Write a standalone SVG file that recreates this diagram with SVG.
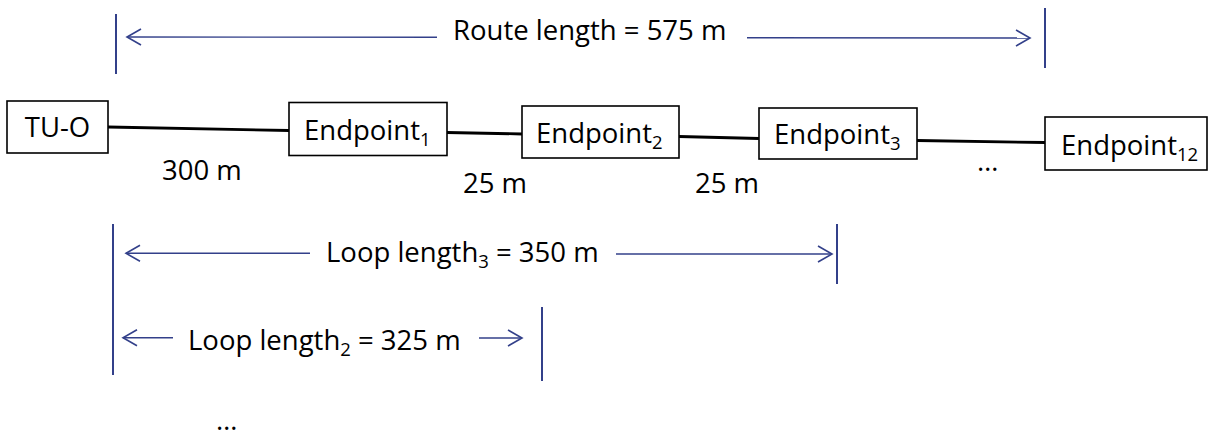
<svg xmlns="http://www.w3.org/2000/svg" width="1208" height="436" viewBox="0 0 1208 436">
  <defs>
    <style>
      text { font-family: "Open Sans", "Liberation Sans", sans-serif; font-size: 27.5px; fill: #000; }
      .sub { font-size: 18.5px; }
      .box { fill: #fff; stroke: #000; stroke-width: 1.6; }
      .link { stroke: #000; stroke-width: 2.8; fill: none; }
      .dim { stroke: #33408a; stroke-width: 1.4; fill: none; }
      .bar { stroke: #33408a; stroke-width: 2; fill: none; }
    </style>
    <marker id="open-arrow" markerUnits="userSpaceOnUse" markerWidth="20" markerHeight="20" viewBox="-16 -10 18 20" refX="0" refY="0" orient="auto-start-reverse">
      <path d="M -14 -8 L 0 0 L -14 8" fill="none" stroke="#33408a" stroke-width="1.6"/>
    </marker>
  </defs>

  <!-- cable segments between units -->
  <g id="connectors">
    <line class="link" x1="108" y1="127" x2="289" y2="130.5"/>
    <line class="link" x1="447" y1="132.5" x2="522" y2="134"/>
    <line class="link" x1="679" y1="136.5" x2="759" y2="138.5"/>
    <line class="link" x1="917" y1="140.5" x2="1045" y2="142.5"/>
  </g>

  <g id="tu-o">
    <rect class="box" x="7" y="101" width="101" height="52"/>
    <text x="57.5" y="137" text-anchor="middle">TU-O</text>
  </g>
  <g id="endpoint1">
    <rect class="box" x="289" y="102.5" width="158" height="53"/>
    <text x="304" y="139.5">Endpoint<tspan class="sub" dy="6">1</tspan></text>
  </g>
  <g id="endpoint2">
    <rect class="box" x="522" y="106" width="157" height="52"/>
    <text x="536" y="142.5">Endpoint<tspan class="sub" dy="6">2</tspan></text>
  </g>
  <g id="endpoint3">
    <rect class="box" x="759" y="108" width="158" height="51"/>
    <text x="774" y="144">Endpoint<tspan class="sub" dy="6">3</tspan></text>
  </g>
  <g id="endpoint12">
    <rect class="box" x="1045" y="117" width="162" height="53"/>
    <text x="1061" y="154.5">Endpoint<tspan class="sub" dy="6">12</tspan></text>
  </g>

  <!-- segment lengths -->
  <g id="segment-labels">
    <text x="162" y="180">300 m</text>
    <text x="463" y="193">25 m</text>
    <text x="695" y="193">25 m</text>
    <text x="977" y="171">…</text>
  </g>

  <!-- route length dimension -->
  <g id="route-length">
    <line class="bar" x1="116" y1="14" x2="116" y2="74"/>
    <line class="bar" x1="1045" y1="8" x2="1045" y2="68"/>
    <line class="dim" x1="437" y1="37.3" x2="127" y2="37" marker-end="url(#open-arrow)"/>
    <line class="dim" x1="747" y1="37.7" x2="1030" y2="38" marker-end="url(#open-arrow)"/>
    <text x="453" y="40">Route length = 575 m</text>
  </g>

  <!-- loop length to endpoint 3 -->
  <g id="loop-length-3">
    <line class="bar" x1="113" y1="224" x2="113" y2="300"/>
    <line class="bar" x1="837" y1="224" x2="837" y2="284"/>
    <line class="dim" x1="310" y1="253.3" x2="126" y2="253.3" marker-end="url(#open-arrow)"/>
    <line class="dim" x1="616" y1="254" x2="832" y2="254" marker-end="url(#open-arrow)"/>
    <text x="326" y="262">Loop length<tspan class="sub" dy="6">3</tspan><tspan dy="-6"> = 350 m</tspan></text>
  </g>

  <!-- loop length to endpoint 2 -->
  <g id="loop-length-2">
    <line class="bar" x1="113" y1="298" x2="113" y2="375"/>
    <line class="bar" x1="542" y1="307" x2="542" y2="381"/>
    <line class="dim" x1="173" y1="337.7" x2="123" y2="337.7" marker-end="url(#open-arrow)"/>
    <line class="dim" x1="479" y1="338" x2="522" y2="338" marker-end="url(#open-arrow)"/>
    <text x="188" y="350">Loop length<tspan class="sub" dy="6">2</tspan><tspan dy="-6"> = 325 m</tspan></text>
  </g>

  <text x="216" y="430">…</text>
</svg>
